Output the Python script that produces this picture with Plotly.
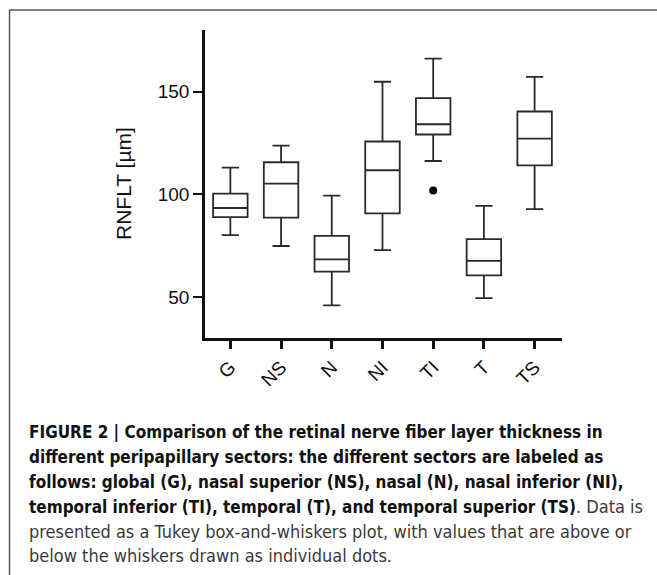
import plotly.graph_objects as go

# ---- data ----
categories = ["G", "NS", "N", "NI", "TI", "T", "TS"]
lower_whisker = [80.1, 74.8, 45.9, 72.8, 116.2, 49.4, 92.8]
q1_values = [88.9, 88.6, 62.3, 90.7, 129.1, 60.5, 114.1]
median_values = [93.3, 105.2, 68.3, 111.7, 134.1, 67.6, 127.1]
q3_values = [100.3, 115.6, 79.7, 125.7, 146.8, 78.2, 140.3]
upper_whisker = [113.0, 123.7, 99.3, 154.8, 166.1, 94.3, 157.2]
outlier_categories = ["TI"]
outlier_values = [101.8]
y_tick_values = [50, 100, 150]

caption_lines = [
    "<b>FIGURE 2 | Comparison of the retinal nerve fiber layer thickness in</b>",
    "<b>different peripapillary sectors: the different sectors are labeled as</b>",
    "<b>follows: global (G), nasal superior (NS), nasal (N), nasal inferior (NI),</b>",
    "<b>temporal inferior (TI), temporal (T), and temporal superior (TS)</b>. Data is",
    "presented as a Tukey box-and-whiskers plot, with values that are above or",
    "below the whiskers drawn as individual dots.",
]

# ---- layout geometry (pixels) ----
W, H = 657, 575
L, T, R, B = 205, 30, 562, 338
pos = list(range(len(categories)))


def py_to_paper(py):
    return (B - py) / (B - T)


def px_to_paper(px):
    return (px - L) / (R - L)


fig = go.Figure()

fig.add_trace(go.Box(
    x=pos,
    q1=q1_values,
    median=median_values,
    q3=q3_values,
    lowerfence=lower_whisker,
    upperfence=upper_whisker,
    width=0.68,
    whiskerwidth=0.5,
    line=dict(color="#2a2a2a", width=1.8),
    fillcolor="rgba(255,255,255,0)",
    boxpoints=False,
    showlegend=False,
    hoverinfo="skip",
))

fig.add_trace(go.Scatter(
    x=[categories.index(c) for c in outlier_categories],
    y=outlier_values,
    mode="markers",
    marker=dict(color="#000000", size=8),
    showlegend=False,
    hoverinfo="skip",
))

axis_font = dict(family="Liberation Sans, Arial, sans-serif", size=19, color="#111111")

fig.update_layout(
    width=W,
    height=H,
    margin=dict(l=L, r=W - R, t=T, b=H - B, autoexpand=False),
    paper_bgcolor="white",
    plot_bgcolor="white",
    xaxis=dict(
        range=[-0.5, 6.54],
        tickmode="array",
        tickvals=pos,
        ticktext=categories,
        tickangle=-45,
        ticks="outside",
        ticklen=8,
        tickwidth=2.5,
        tickcolor="#111111",
        showline=True,
        linecolor="#111111",
        linewidth=2.5,
        showgrid=False,
        zeroline=False,
        tickfont=axis_font,
        fixedrange=True,
    ),
    yaxis=dict(
        range=[30, 180],
        tickmode="array",
        tickvals=y_tick_values,
        ticks="outside",
        ticklen=9,
        tickwidth=2,
        tickcolor="#111111",
        showline=True,
        linecolor="#111111",
        linewidth=2.5,
        showgrid=False,
        zeroline=False,
        tickfont=axis_font,
        fixedrange=True,
    ),
)

# y-axis title
fig.add_annotation(
    text="RNFLT [µm]",
    xref="paper", yref="paper",
    x=px_to_paper(123), y=py_to_paper(184),
    xanchor="center", yanchor="middle",
    textangle=-90,
    showarrow=False,
    font=dict(family="Liberation Sans, Arial, sans-serif", size=21, color="#111111"),
)

# caption
cap_family = "DejaVu Sans Condensed, Liberation Sans Narrow, sans-serif"
cap_font = dict(family=cap_family, size=18, color="#3a3a3a")
line_centers = [431.5, 456.5, 481.5, 506, 531, 555.5]
for txt, cy in zip(caption_lines, line_centers):
    txt = txt.replace("<b>", "<b><span style='color:#111111;font-size:17px'>").replace("</b>", "</span></b>")
    fig.add_annotation(
        text=txt,
        xref="paper", yref="paper",
        x=px_to_paper(27), y=py_to_paper(cy),
        xanchor="left", yanchor="middle",
        showarrow=False,
        font=cap_font,
    )

# frame lines (top and left edges of the figure panel)
fig.add_shape(type="line", xref="paper", yref="paper",
              x0=px_to_paper(9), x1=px_to_paper(W + 5), y0=py_to_paper(10), y1=py_to_paper(10),
              line=dict(color="#5a5a5a", width=1.5))
fig.add_shape(type="line", xref="paper", yref="paper",
              x0=px_to_paper(9.5), x1=px_to_paper(9.5), y0=py_to_paper(10), y1=py_to_paper(H + 5),
              line=dict(color="#5a5a5a", width=1.5))

fig.write_html(
    "out.html",
    config={"displayModeBar": False},
    post_script="document.body.style.margin='0';document.body.style.overflow='hidden';",
)
